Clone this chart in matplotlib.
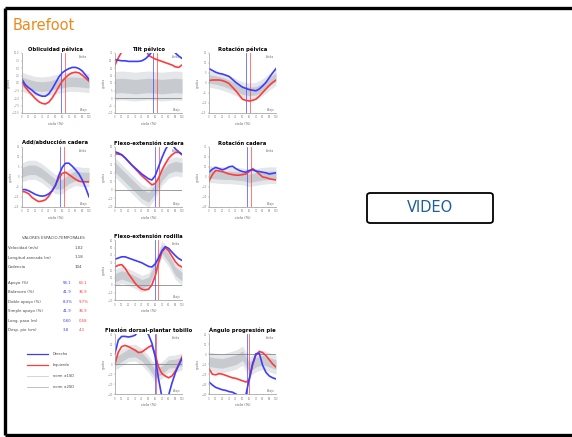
import numpy as np
import matplotlib
matplotlib.use("Agg")
import matplotlib.pyplot as plt
from matplotlib.patches import FancyBboxPatch
from matplotlib.lines import Line2D

W, H = 572, 437

# gait cycle sampling
PCT = np.arange(0, 101, 5)
PCT_NORM = np.arange(0, 101, 10)

BLUE = "#3d3dff"
RED = "#ff3b3b"

# --- kinematics (degrees), right = blue, left = red, norm mean / sd ---
OBL_R = [1.2, -0.6, -1.6, -2.4, -3.4, -4, -4.4, -4.4, -3.6, -2, 0, 2, 3.4, 4.2, 4.8, 5.2, 5.2, 4.8, 4, 2.6, 1.2]
OBL_L = [0.6, -1.4, -2.8, -4, -5.2, -6.2, -6.8, -7, -6.4, -5, -3.2, -1.2, 0.6, 1.8, 2.8, 3.4, 3.6, 3.4, 2.6, 1.6, 0.6]
OBL_NORM = [0.4, -0.4, -1, -1.2, -1, -0.4, 0, 0.4, 0.4, 0.2, 0]

TILT_R = [25.6, 25.2, 24.8, 24.8, 24.4, 24.4, 24.4, 24.4, 24.8, 26, 28, 30.8, 34, 34, 34, 34, 34, 34, 30, 28, 26.4]
TILT_L = [22, 26.8, 30.8, 34, 34, 34, 34, 34, 34, 34, 28.4, 27.2, 26, 25.2, 24.4, 23.6, 22.8, 22, 20.8, 20.4, 22]
TILT_NORM = [8, 8.4, 8, 7.6, 8, 8.4, 8, 7.6, 8, 8.4, 8]

ROT_R = [7.2, 6.3, 5.4, 4.8, 4.5, 3.9, 3.3, 1.8, 0.3, -0.9, -2.1, -2.7, -3.3, -3.6, -3.9, -3, -1.5, 0.3, 2.7, 5.1, 7.2]
ROT_L = [1.2, 1.5, 1.5, 1.5, 1.2, 0.6, -0.3, -2.1, -3.9, -6, -8.1, -8.7, -9, -8.7, -8.1, -6.6, -4.8, -3, -1.2, 0.3, 1.5]
ROT_NORM = [2.1, 1.5, 0.6, -0.6, -2.1, -3.6, -4.2, -3.9, -2.1, 0.6, 3]

HADD_R = [-6.3, -6.3, -6.9, -7.8, -8.7, -9.3, -9.6, -9.3, -8.4, -6.9, -4.2, 0.9, 4.8, 6.9, 6.9, 5.4, 3.6, 1.5, -1.5, -5.4, -9.9]
HADD_L = [-7.2, -7.5, -8.4, -10.2, -11.4, -12.3, -12, -11.4, -9.6, -6.9, -3.9, -0.6, 1.8, 2.4, 1.2, 0, -1.2, -2.1, -2.4, -2.4, -2.4]
HADD_NORM = [2.4, 3.6, 3.6, 1.8, -0.9, -3.6, -3.6, -0.9, 0.6, 0, 0]

HFLX_R = [44.4, 43, 40.9, 37.4, 33.2, 29, 25.5, 22, 18.5, 15.7, 12.9, 11.5, 16.4, 26.9, 37.4, 46.5, 53.5, 53.5, 47.9, 44.4, 41.6]
HFLX_L = [42.3, 41.6, 40.9, 37.4, 33.2, 29, 24.8, 20.6, 16.4, 12.9, 9.4, 5.9, 7.3, 13.6, 22.7, 30.4, 36.7, 40.9, 43.7, 43.7, 40.9]
HFLX_NORM = [26.2, 18.5, 10.8, 3.1, -4.6, -8.8, 1, 16.4, 24.8, 27.6, 26.2]

HROT_R = [4.8, 7.8, 9.6, 8.4, 7.2, 8.4, 10.2, 10.8, 8.4, 6.6, 5.4, 4.8, 6.6, 7.2, 6, 5.4, 4.8, 4.2, 3, 3.6, 4.2]
HROT_L = [-4.2, 2.4, 6.6, 6, 5.4, 4.2, 3, 2.4, 1.8, 1.8, 2.4, 3, 5.4, 8.4, 6, 3, 0, -0.6, -1.8, -2.4, -3]
HROT_NORM = [3, 2.4, 1.8, 1.8, 1.2, 0.6, -1.2, 0, 1.2, 1.8, 1.8]

KNEE_R = [34.4, 36, 37.6, 37.6, 36, 34.4, 32.8, 31.2, 29.6, 27.2, 24.8, 24, 28, 36, 45.6, 51.2, 48.8, 44, 39.2, 35.2, 32.8]
KNEE_L = [24, 26.4, 27.2, 22.4, 15.2, 8.8, 2.4, -2.4, -5.6, -6.4, -5.6, 0, 12, 29.6, 44, 49.6, 45.6, 38.4, 31.2, 26.4, 24]
KNEE_NORM = [9.6, 13.6, 10.4, 6.4, 1.6, 4.8, 24, 48, 36, 18.4, 11.2]

ANK_R = [10.8, 24, 27.6, 27.6, 27, 27.6, 28.8, 33, 36, 33, 29.4, 21, 7.2, -15, -33, -36, -31.2, -19.2, -9, -1.2, 5.4]
ANK_L = [0.6, 12, 17.4, 18.6, 17.4, 15.6, 13.8, 11.4, 12, 14.4, 16.8, 18.6, 9.6, -3, -9.6, -12, -13.8, -12, -7.2, -0.6, 7.2]
ANK_NORM = [2.4, 6.6, 10.8, 11.4, 7.2, 0, -9.6, -6, 0, 0.6, 2.4]

FPA_R = [-28, -31, -33.4, -34.6, -35.8, -36.4, -37.6, -38.2, -40, -41.8, -43, -41.2, -25, -10, 0.2, 0.8, -11.2, -18.4, -22, -23.8, -25]
FPA_L = [-14.8, -20.2, -20.8, -19.6, -20.2, -21.4, -22.6, -23.8, -24.4, -25.6, -26.8, -28, -26.2, -11.2, -1, 2.6, 1.4, -1.6, -5.8, -10, -13]
FPA_NORM = [-7.6, -8.8, -9.4, -7.6, -5.8, -1.6, -13, -8.2, -5.8, -8.2, -10.6]

TITLES = ["Oblicuidad pélvica", "Tilt pélvico", "Rotación pélvica",
          "Add/abducción cadera", "Flexo-extensión cadera", "Rotación cadera",
          "Flexo-extensión rodilla", "Flexión dorsal-plantar tobillo", "Ángulo progresión pie"]
SD = [1.6, 4.8, 2.1, 2.4, 5.6, 4.2, 5.6, 4.2, 4.8]
YLIM = [(-10, 10), (-10, 30), (-15, 15), (-15, 15), (-20, 50), (-30, 30), (-20, 60), (-30, 30), (-40, 20)]
TOE_OFF_R = [58, 57, 55, 57, 60, 57, 59, 59, 56]
TOE_OFF_L = [64, 63, 61, 63, 66, 63, 64, 61, 60]
ZERO_LINE = [False, True, False, False, True, False, True, True, True]

RIGHT = [OBL_R, TILT_R, ROT_R, HADD_R, HFLX_R, HROT_R, KNEE_R, ANK_R, FPA_R]
LEFT = [OBL_L, TILT_L, ROT_L, HADD_L, HFLX_L, HROT_L, KNEE_L, ANK_L, FPA_L]
NORM = [OBL_NORM, TILT_NORM, ROT_NORM, HADD_NORM, HFLX_NORM, HROT_NORM, KNEE_NORM, ANK_NORM, FPA_NORM]

# spatio-temporal parameters
ST_LABELS = ["Velocidad (m/s)", "Longitud zancada (m)", "Cadencia"]
ST_VALUES = ["1.02", "1.18", "104"]
PH_LABELS = ["Apoyo (%)", "Balanceo (%)", "Doble apoyo (%)", "Simple apoyo (%)", "Long. paso (m)", "Desp. pie (cm)"]
PH_RIGHT = ["58.1", "41.9", "8.3%", "41.9", "0.60", "3.8"]
PH_LEFT = ["63.1", "36.9", "9.7%", "36.9", "0.58", "4.1"]

LEGEND_LABELS = ["Derecho", "Izquierdo", "norm ±1SD", "norm ±2SD"]

fig = plt.figure(figsize=(W / 100, H / 100), dpi=100)
fig.patch.set_facecolor("white")


def px_rect(x0, y0, x1, y1):
    return [x0 / W, 1 - y1 / H, (x1 - x0) / W, (y1 - y0) / H]


# page frame
frame = dict(color="black", lw=2.4, solid_capstyle="butt", transform=fig.transFigure)
fig.add_artist(Line2D([5 / W, 1], [1 - 8 / H] * 2, **frame))
fig.add_artist(Line2D([5 / W] * 2, [1 - 8 / H, 1 - 435 / H], **frame))
fig.add_artist(Line2D([5 / W, 1], [1 - 435 / H] * 2, **frame))

fig.text(13 / W, 1 - 26 / H, "Barefoot", color="#ec8a1c", fontsize=10.5, va="center", ha="left")

cols = [22, 115, 209]
rows = [53, 147, 240, 334]
cells = [(0, 0), (0, 1), (0, 2), (1, 0), (1, 1), (1, 2), (2, 1), (3, 1), (3, 2)]

for i, (r, c) in enumerate(cells):
    x0, y0 = cols[c], rows[r]
    ax = fig.add_axes(px_rect(x0, y0, x0 + 67, y0 + 60))
    mean = np.array(NORM[i])
    ax.fill_between(PCT_NORM, mean - 2 * SD[i], mean + 2 * SD[i], color="#e4e6e9", lw=0)
    ax.fill_between(PCT_NORM, mean - SD[i], mean + SD[i], color="#c7cbd0", lw=0)
    if ZERO_LINE[i]:
        ax.axhline(0, color="#8a8a8a", lw=0.6)
    ax.axvline(TOE_OFF_R[i], color=BLUE, lw=0.6, alpha=0.8)
    ax.axvline(TOE_OFF_L[i], color=RED, lw=0.6, alpha=0.8)
    ax.plot(PCT, LEFT[i], color=RED, lw=1.2)
    ax.plot(PCT, RIGHT[i], color=BLUE, lw=1.2)
    ax.set_xlim(0, 100)
    ax.set_ylim(*YLIM[i])
    ax.set_title(TITLES[i], fontsize=3.8, fontweight="bold", pad=1.5)
    ax.set_xlabel("ciclo (%)", fontsize=2.5, color="#555555", labelpad=2)
    ax.set_ylabel("grados", fontsize=2.2, color="#777777", labelpad=1)
    ax.set_xticks(np.arange(0, 101, 10))
    ax.tick_params(labelsize=1.8, colors="#888888", length=1, width=0.3, pad=0.8)
    for side in ["top", "right"]:
        ax.spines[side].set_visible(False)
    for side in ["left", "bottom"]:
        ax.spines[side].set_color("#999999")
        ax.spines[side].set_linewidth(0.5)
    ax.text(98, YLIM[i][1] - 0.08 * (YLIM[i][1] - YLIM[i][0]), "Arriba", fontsize=2, color="#777777", ha="right")
    ax.text(98, YLIM[i][0] + 0.04 * (YLIM[i][1] - YLIM[i][0]), "Abajo", fontsize=2, color="#777777", ha="right")

# spatio-temporal table
txt = dict(fontsize=2.8, color="#444444", va="center")
fig.text(22 / W, 1 - 238 / H, "VALORES ESPACIO-TEMPORALES", **txt)
for k, (lab, val) in enumerate(zip(ST_LABELS, ST_VALUES)):
    y = 1 - (248 + 9.5 * k) / H
    fig.text(8 / W, y, lab, **txt)
    fig.text(75 / W, y, val, **txt)
for k, lab in enumerate(PH_LABELS):
    y = 1 - (283 + 9.4 * k) / H
    fig.text(8 / W, y, lab, **txt)
    fig.text(63 / W, y, PH_RIGHT[k], fontsize=2.8, color=BLUE, va="center")
    fig.text(79 / W, y, PH_LEFT[k], fontsize=2.8, color=RED, va="center")

# legend
leg_colors = [BLUE, RED, "#cfcfcf", "#b5b5b5"]
for k, (lab, col) in enumerate(zip(LEGEND_LABELS, leg_colors)):
    y = 1 - (354 + 11 * k) / H
    fig.add_artist(Line2D([27 / W, 48 / W], [y, y], color=col, lw=0.9 if k < 2 else 0.6, transform=fig.transFigure))
    fig.text(53 / W, y, lab, fontsize=2.6, color="#444444", va="center")

# video button
btn = FancyBboxPatch((367 / W, 1 - 223 / H), 126 / W, 30 / H,
                     boxstyle="round,pad=0,rounding_size=0.006",
                     transform=fig.transFigure, facecolor="white", edgecolor="black", lw=1.3)
fig.add_artist(btn)
fig.text(430 / W, 1 - 208 / H, "VIDEO", fontsize=10.5, color="#1f5f99", ha="center", va="center")

fig.savefig("out.png", dpi=100, facecolor="white")
